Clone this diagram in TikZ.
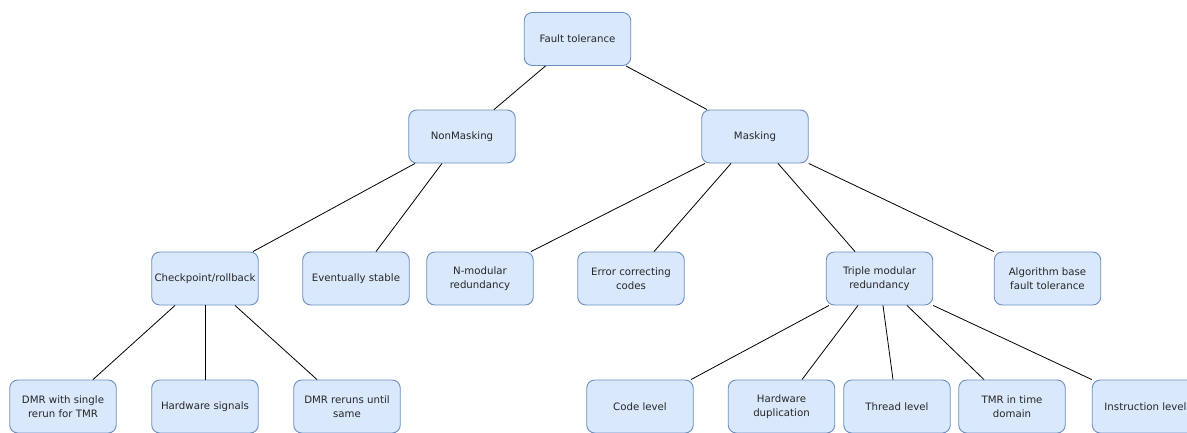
\documentclass[tikz,border=0pt]{standalone}
\usepackage{fontspec}
\setmainfont{DejaVu Sans}
\definecolor{boxfill}{HTML}{DAE8FC}
\definecolor{boxline}{HTML}{6C8EBF}
\begin{document}
\begin{tikzpicture}[x=1pt,y=-1pt]
	\tikzstyle{block}=[rectangle,rounded corners=8pt,draw=boxline,fill=boxfill,line width=0.9pt,minimum width=106.5pt,minimum height=53pt,inner sep=1pt,align=center,font=\fontsize{10.2}{13.6}\selectfont,text=black!85]
	\tikzstyle{link}=[draw,line width=0.8pt]
	\useasboundingbox (0,0) rectangle (1187,432);
	\clip (0,0) rectangle (1187,432);
	\begin{scope}
		% top two levels
		\node [block] (ft) at (577.5,39) {Fault tolerance};
		\node [block] (nm) at (462,136.5) {NonMasking};
		\node [block] (mk) at (755,136.5) {Masking};
		% third level
		\node [block] (cp) at (205,278.5) {Checkpoint/rollback};
		\node [block] (es) at (356,278.5) {Eventually stable};
		\node [block] (nmr) at (480,278.5) {N-modular\\redundancy};
		\node [block] (ecc) at (631,278.5) {Error correcting\\codes};
		\node [block] (tmr) at (879.5,278.5) {Triple modular\\redundancy};
		\node [block] (abft) at (1047.5,278.5) {Algorithm base\\fault tolerance};
		% bottom level
		\node [block] (dmr1) at (63,406.5) {DMR with single\\rerun for TMR};
		\node [block] (hws) at (205,406.5) {Hardware signals};
		\node [block] (dmr2) at (347,406.5) {DMR reruns until\\same};
		\node [block] (code) at (640,406.5) {Code level};
		\node [block] (hwd) at (781.5,406.5) {Hardware\\duplication};
		\node [block] (thr) at (897,406.5) {Thread level};
		\node [block] (tmrt) at (1012,406.5) {TMR in time\\domain};
		\node [block] (instr) at (1145.5,406.5) {Instruction level};
		% connectors
		\path[link] ([xshift=-32pt]ft.south) edge ([xshift=32pt]nm.north);
		\path[link] ([xshift=48.5pt]ft.south) edge ([xshift=-48pt]mk.north);
		\path[link] ([xshift=-47pt]nm.south) edge ([xshift=48pt]cp.north);
		\path[link] ([xshift=-20pt]nm.south) edge ([xshift=20pt]es.north);
		\path[link] ([xshift=-50pt]mk.south) edge ([xshift=51pt]nmr.north);
		\path[link] ([xshift=-24pt]mk.south) edge ([xshift=23pt]ecc.north);
		\path[link] ([xshift=23pt]mk.south) edge ([xshift=-24.5pt]tmr.north);
		\path[link] (mk.south east) edge (abft.north west);
		\path[link] ([xshift=-30pt]cp.south) edge ([xshift=30pt]dmr1.north);
		\path[link] (cp.south) edge (hws.north);
		\path[link] ([xshift=30pt]cp.south) edge ([xshift=-30pt]dmr2.north);
		\path[link] ([xshift=-50.5pt]tmr.south) edge ([xshift=51pt]code.north);
		\path[link] ([xshift=-21.5pt]tmr.south) edge ([xshift=20.5pt]hwd.north);
		\path[link] ([xshift=3.5pt]tmr.south) edge ([xshift=-4pt]thr.north);
		\path[link] ([xshift=27.5pt]tmr.south) edge ([xshift=-28pt]tmrt.north);
		\path[link] (tmr.south east) edge (instr.north west);
	\end{scope}
\end{tikzpicture}
\end{document}
